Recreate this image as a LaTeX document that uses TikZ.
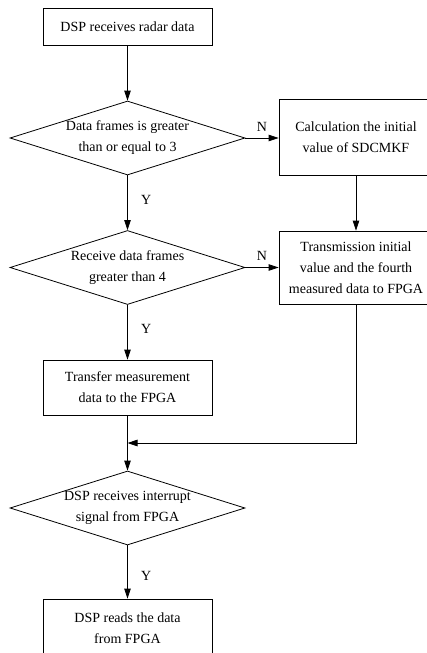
\documentclass[tikz,border=0pt]{standalone}
\usepackage{fontspec}
\setmainfont{Liberation Serif}
\usetikzlibrary{arrows.meta,shapes.geometric}
\tikzset{
    line cap=round,
    line join=miter,
    stepbox/.style={
        rectangle,
        draw=black,
        line width=0.8pt,
        align=center,
        inner sep=0pt
    },
    decision/.style={
        diamond,
        draw=black,
        line width=0.8pt,
        inner sep=0pt,
        minimum width=235pt,
        minimum height=74pt
    },
    decisiontext/.style={
        label={[align=center, font=\fontsize{14}{21}\selectfont]center:#1}
    },
    flowarrow/.style={
        -{Triangle[length=10pt,width=6.5pt]},
        draw=black,
        line width=0.8pt
    },
    flowline/.style={
        draw=black,
        line width=0.8pt
    },
    branch/.style={
        font=\fontsize{14}{16}\selectfont
    }
}
\begin{document}
\begin{tikzpicture}[x=1pt, y=-1pt, every node/.style={font=\fontsize{14}{21}\selectfont}]
\useasboundingbox (0,0) rectangle (427,653);

% Main column
\node[stepbox, minimum width=169pt, minimum height=37pt] (recv) at (127.5, 27) {DSP receives radar data};
\node[decision, decisiontext={Data frames is greater\\than or equal to 3}] (frames3) at (127.5, 138) {};
\node[decision, decisiontext={Receive data frames\\greater than 4}] (frames4) at (127.5, 267.5) {};
\node[stepbox, minimum width=169pt, minimum height=55pt] (transfer) at (127.5, 387.5) {Transfer measurement\\data to the FPGA};
\node[decision, decisiontext={DSP receives interrupt\\signal from FPGA}] (interrupt) at (127.5, 508) {};
\node[stepbox, minimum width=169pt, minimum height=58pt] (readfpga) at (127.5, 628) {DSP reads the data\\from FPGA};

% Right column
\node[stepbox, minimum width=154pt, minimum height=76pt] (calc) at (356, 137) {Calculation the initial\\value of SDCMKF};
\node[stepbox, minimum width=154pt, minimum height=73pt] (transmit) at (356, 267.5) {Transmission initial\\value and the fourth\\measured data to FPGA};

\coordinate (merge) at (127.5, 443);

% Connectors
\draw[flowarrow] (recv) -- (frames3);
\draw[flowarrow] (frames3) -- node[branch, right=10pt, pos=0.45] {Y} (frames4);
\draw[flowarrow] (frames4) -- node[branch, right=10pt, pos=0.43] {Y} (transfer);
\draw[flowline] (transfer) -- (merge);
\draw[flowarrow] (merge) -- (interrupt);
\draw[flowarrow] (interrupt) -- node[branch, right=10pt, pos=0.58] {Y} (readfpga);

\draw[flowarrow] (frames3.east) -- node[branch, above=3pt, pos=0.5] {N} (calc.west |- frames3.east);
\draw[flowarrow] (frames4.east) -- node[branch, above=3pt, pos=0.5] {N} (transmit.west |- frames4.east);
\draw[flowarrow] (calc) -- (transmit);
\draw[flowarrow] (transmit.south) |- (merge);
\end{tikzpicture}
\end{document}
